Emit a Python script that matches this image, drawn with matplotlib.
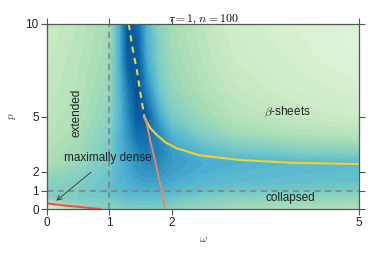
import numpy as np
import matplotlib
matplotlib.use("Agg")
import matplotlib.pyplot as plt

plt.rcParams['font.family'] = ['Liberation Sans', 'DejaVu Sans']
plt.rcParams['mathtext.fontset'] = 'cm'

# grid of the background field (fraction along the GnBu colour map)
omega_grid = [0, 0.5, 1.0, 1.15, 1.3, 1.45, 1.6, 1.8, 2.0, 2.5, 3.0, 4.0, 5.0]
p_grid = [0, 0.3, 0.7, 1.0, 1.5, 2.0, 2.5, 3.0, 4.0, 5.0, 6.5, 8.0, 10.0]
field = [
    [0.10, 0.35, 0.45, 0.47, 0.48, 0.49, 0.49, 0.48, 0.46, 0.42, 0.38, 0.36, 0.34],
    [0.30, 0.45, 0.48, 0.50, 0.52, 0.53, 0.53, 0.53, 0.50, 0.45, 0.42, 0.40, 0.38],
    [0.50, 0.50, 0.52, 0.55, 0.57, 0.58, 0.58, 0.58, 0.55, 0.50, 0.47, 0.45, 0.44],
    [0.48, 0.50, 0.56, 0.58, 0.60, 0.62, 0.63, 0.63, 0.60, 0.56, 0.53, 0.52, 0.50],
    [0.45, 0.48, 0.55, 0.60, 0.63, 0.66, 0.68, 0.68, 0.65, 0.60, 0.58, 0.56, 0.55],
    [0.40, 0.45, 0.53, 0.60, 0.65, 0.70, 0.72, 0.72, 0.68, 0.63, 0.60, 0.58, 0.57],
    [0.37, 0.42, 0.52, 0.60, 0.66, 0.72, 0.76, 0.75, 0.70, 0.65, 0.63, 0.60, 0.58],
    [0.35, 0.40, 0.50, 0.60, 0.68, 0.76, 0.80, 0.78, 0.70, 0.60, 0.55, 0.50, 0.48],
    [0.32, 0.37, 0.48, 0.60, 0.72, 0.85, 0.85, 0.75, 0.62, 0.48, 0.40, 0.35, 0.32],
    [0.30, 0.35, 0.45, 0.58, 0.75, 0.92, 0.90, 0.65, 0.50, 0.40, 0.33, 0.27, 0.24],
    [0.28, 0.33, 0.42, 0.58, 0.80, 0.95, 0.75, 0.52, 0.43, 0.35, 0.28, 0.22, 0.18],
    [0.27, 0.32, 0.40, 0.60, 0.90, 0.92, 0.65, 0.48, 0.40, 0.32, 0.25, 0.19, 0.15],
    [0.25, 0.30, 0.38, 0.60, 0.95, 0.85, 0.60, 0.45, 0.38, 0.30, 0.22, 0.17, 0.13],
]

# transition lines
beta_dashed_omega = [1.31, 1.37, 1.44, 1.50, 1.56]
beta_dashed_p = [10.0, 8.7, 7.5, 6.2, 5.0]
beta_solid_omega = [1.56, 1.60, 1.66, 1.76, 1.83, 1.90, 2.08, 2.45, 3.09, 3.89, 5.0]
beta_solid_p = [5.0, 4.7, 4.35, 4.0, 3.8, 3.6, 3.28, 2.9, 2.65, 2.5, 2.43]
coll_omega = [1.55, 1.60, 1.66, 1.73, 1.79, 1.84, 1.89]
coll_p = [5.0, 4.6, 3.6, 2.65, 1.7, 1.0, 0.0]
dense_omega = [0.0, 0.25, 0.5, 0.7, 0.85]
dense_p = [0.30, 0.20, 0.12, 0.05, 0.0]

xticks = [0, 1, 2, 5]
yticks = [0, 1, 2, 5, 10]

fig = plt.figure(figsize=(3.74, 2.57), dpi=100)
ax = fig.add_axes([47/374, 1 - 209/257, (359-47)/374, (209-24)/257])

W, P = np.meshgrid(omega_grid, p_grid)
ax.contourf(W, P, np.array(field), levels=np.linspace(0, 1, 41), cmap='GnBu', vmin=0, vmax=1)

ax.axvline(1, color='#808080', ls=(0, (4, 3)), lw=1.1)
ax.axhline(1, color='#808080', ls=(0, (4, 3)), lw=1.1)

ax.plot(beta_dashed_omega, beta_dashed_p, color='#f2d22a', lw=1.5, ls=(0, (3, 2.5)))
ax.plot(beta_solid_omega, beta_solid_p, color='#f2d22a', lw=1.5)
ax.plot(coll_omega, coll_p, color='#f08565', lw=1.3)
ax.plot(dense_omega, dense_p, color='#f05050', lw=1.5)

ax.set_xlim(0, 5)
ax.set_ylim(0, 10)
ax.set_xticks(xticks)
ax.set_yticks(yticks)
ax.tick_params(direction='out', length=4, width=0.8, color='#555555',
               labelsize=8.5, labelcolor='#222222', pad=2,
               top=True, right=True, labeltop=False, labelright=False)
for s in ax.spines.values():
    s.set_color('#555555')
    s.set_linewidth(0.9)

ax.set_title(r'$\tau=1$, $n=100$', fontsize=8.5, pad=2)
ax.set_xlabel(r'$\omega$', fontsize=8, labelpad=3, color='#444444')
ax.set_ylabel(r'$p$', fontsize=8, labelpad=5, color='#444444')

ax.text(0.48, 5.2, 'extended', rotation=90, ha='center', va='center', fontsize=8.5, color='#222222')
ax.text(3.86, 5.2, r'$\beta$-sheets', ha='center', va='center', fontsize=8.5, color='#222222')
ax.text(3.9, 0.6, 'collapsed', ha='center', va='center', fontsize=8.5, color='#222222')
ax.annotate('maximally dense', xy=(0.15, 0.45), xytext=(0.98, 2.75),
            ha='center', va='center', fontsize=8.5, color='#222222',
            arrowprops=dict(arrowstyle='->', color='#333333', lw=0.6,
                            shrinkA=6, shrinkB=0))

fig.savefig('out.png', dpi=100)
